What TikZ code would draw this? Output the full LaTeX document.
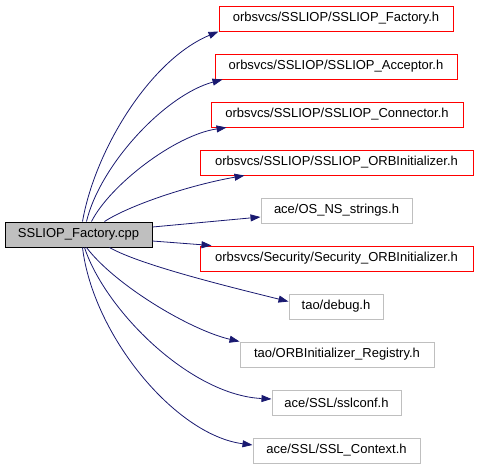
\documentclass[tikz,border=0pt]{standalone}
\usepackage{fontspec}
\setmainfont{Liberation Sans}
\usetikzlibrary{arrows.meta,calc}
\definecolor{edgeblue}{HTML}{191970}
\definecolor{boxgray}{HTML}{BFBFBF}
\begin{document}
\begin{tikzpicture}[x=1pt,y=-1pt,
  every node/.style={inner sep=0pt,minimum height=25pt,font=\fontsize{13}{15}\selectfont},
  srcbox/.style={draw=black,fill=boxgray,line width=1pt},
  redbox/.style={draw=red,fill=white,line width=1pt},
  graybox/.style={draw=boxgray,fill=white,line width=1pt},
  dep/.style={draw=edgeblue,line width=0.8pt,-{Triangle[length=10pt,width=7pt]}}]
\useasboundingbox (0,0) rectangle (477,467);
\node[srcbox,minimum width=147pt] (src) at (78.5,234.5) {SSLIOP\_Factory.cpp};
\node[redbox,minimum width=234pt] (t1) at (336,18.5) {orbsvcs/SSLIOP/SSLIOP\_Factory.h};
\node[redbox,minimum width=242pt] (t2) at (336,66.5) {orbsvcs/SSLIOP/SSLIOP\_Acceptor.h};
\node[redbox,minimum width=252pt] (t3) at (337,114.5) {orbsvcs/SSLIOP/SSLIOP\_Connector.h};
\node[redbox,minimum width=273pt] (t4) at (336.5,162.5) {orbsvcs/SSLIOP/SSLIOP\_ORBInitializer.h};
\node[graybox,minimum width=151pt] (t5) at (336.5,210.5) {ace/OS\_NS\_strings.h};
\node[redbox,minimum width=273pt] (t6) at (336.5,258.5) {orbsvcs/Security/Security\_ORBInitializer.h};
\node[graybox,minimum width=94pt] (t7) at (336,306.5) {tao/debug.h};
\node[graybox,minimum width=194pt] (t8) at (337,354.5) {tao/ORBInitializer\_Registry.h};
\node[graybox,minimum width=129pt] (t9) at (336.5,402.5) {ace/SSL/sslconf.h};
\node[graybox,minimum width=167pt] (t10) at (336.5,450.5) {ace/SSL/SSL\_Context.h};
% edges
\draw[dep] ($(src.north west)+(78,0)$) .. controls (95,150) and (150,60) .. (t1.south west);
\draw[dep] ($(src.north west)+(82,0)$) .. controls (100,165) and (165,95) .. ($(t2.south west)+(8,0)$);
\draw[dep] ($(src.north west)+(87,0)$) .. controls (110,185) and (175,135) .. ($(t3.south west)+(16,0)$);
\draw[dep] ($(src.north west)+(100,0)$) .. controls (130,205) and (190,185) .. ($(t4.south west)+(45,0)$);
\draw[dep] ($(src.east)+(0,-7.5)$) -- ($(t5.west)+(0,6.5)$);
\draw[dep] ($(src.east)+(0,6.5)$) -- ($(t6.north west)+(12,0)$);
\draw[dep] ($(src.south west)+(105,0)$) .. controls (140,265) and (230,287) .. ($(t7.west)+(0,-5)$);
\draw[dep] ($(src.south west)+(82,0)$) .. controls (115,285) and (190,330) .. (t8.north west);
\draw[dep] ($(src.south west)+(80,0)$) .. controls (105,310) and (190,395) .. ($(t9.west)+(0,-3.5)$);
\draw[dep] ($(src.south west)+(78,0)$) .. controls (93,335) and (175,435) .. ($(t10.west)+(0,-5.5)$);
\end{tikzpicture}
\end{document}
